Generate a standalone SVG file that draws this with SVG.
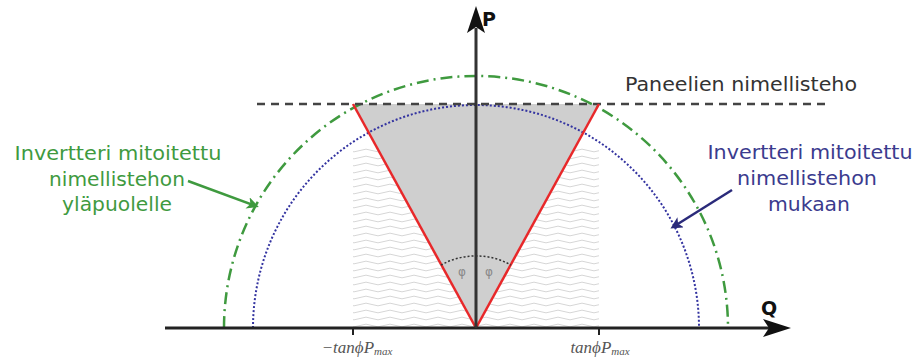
<svg xmlns="http://www.w3.org/2000/svg" width="922" height="362" viewBox="0 0 922 362">
<style>
.lbl{font-family:"DejaVu Sans","Liberation Sans",sans-serif;font-size:19px;text-anchor:middle}
.green{fill:#3f9a3f}
.blue{fill:#3b3b8e}
.tick{font-family:"Liberation Serif",serif;font-style:italic;font-size:17px;fill:#555;text-anchor:middle}
.axl{font-family:"DejaVu Sans","Liberation Sans",sans-serif;font-weight:bold;font-size:19px;fill:#111}
</style>
<defs>
<pattern id="wave" width="24" height="7" patternUnits="userSpaceOnUse">
<path d="M0 3.5 Q6 0.8 12 3.5 T24 3.5" fill="none" stroke="#d6d6d6" stroke-width="1"/>
</pattern>
<marker id="ag" markerWidth="12" markerHeight="12" refX="9" refY="6" orient="auto" markerUnits="userSpaceOnUse" viewBox="0 0 12 12">
<path d="M0 0 L12 6 L0 12 L3 6 Z" fill="#3f9a3f"/>
</marker>
<marker id="ab" markerWidth="12" markerHeight="12" refX="9" refY="6" orient="auto" markerUnits="userSpaceOnUse" viewBox="0 0 12 12">
<path d="M0 0 L12 6 L0 12 L3 6 Z" fill="#2a2a7a"/>
</marker>
</defs>
<rect width="922" height="362" fill="#fff"/>
<g id="background">
<rect x="353" y="148" width="246" height="179" fill="url(#wave)"/>
<polygon points="476,328 353,104 599,104" fill="#cfcfcf"/>
</g>
<g id="circles">
<path d="M224 328 A252 252 0 0 1 728 328" fill="none" stroke="#3f9a3f" stroke-width="2.5" stroke-dasharray="12 5 2 5"/>
<path d="M253 328 A223 223 0 0 1 699 328" fill="none" stroke="#3333a0" stroke-width="2" stroke-dasharray="2 2"/>
<line x1="257" y1="104" x2="830" y2="104" stroke="#444" stroke-width="2.5" stroke-dasharray="8 6"/>
</g>
<g id="rays">
<line x1="476" y1="328" x2="353" y2="104" stroke="#e8282a" stroke-width="2.5"/>
<line x1="476" y1="328" x2="599" y2="104" stroke="#e8282a" stroke-width="2.5"/>
<path d="M441 265 A72 72 0 0 1 511 265" fill="none" stroke="#333" stroke-width="1.5" stroke-dasharray="2 2"/>
<text x="462" y="276" font-family="DejaVu Sans,sans-serif" font-size="12" fill="#888" text-anchor="middle">φ</text>
<text x="489" y="276" font-family="DejaVu Sans,sans-serif" font-size="12" fill="#888" text-anchor="middle">φ</text>
</g>
<g id="axes">
<line x1="165" y1="328" x2="770" y2="328" stroke="#222" stroke-width="3"/>
<polygon points="791,328 763,319 769,328 763,337" fill="#111"/>
<line x1="476" y1="328" x2="476" y2="28" stroke="#333" stroke-width="3"/>
<polygon points="476,6 467,33 476,27 485,33" fill="#111"/>
<line x1="353" y1="328" x2="353" y2="335" stroke="#222" stroke-width="2"/>
<line x1="599" y1="328" x2="599" y2="335" stroke="#222" stroke-width="2"/>
<text class="axl" x="482" y="26">P</text>
<text class="axl" x="761" y="315" font-size="16">Q</text>
<text class="tick" x="357" y="353">−tanϕP<tspan font-size="11" dy="2">max</tspan></text>
<text class="tick" x="600" y="353">tanϕP<tspan font-size="11" dy="2">max</tspan></text>
</g>
<g id="label-panel">
<text x="741" y="91" font-family="DejaVu Sans,Liberation Sans,sans-serif" font-size="19" fill="#333" text-anchor="middle" textLength="232" lengthAdjust="spacingAndGlyphs">Paneelien nimellisteho</text>
</g>
<g id="label-green">
<text class="lbl green" x="118" y="160" textLength="207" lengthAdjust="spacingAndGlyphs">Invertteri mitoitettu</text>
<text class="lbl green" x="117" y="186" textLength="136" lengthAdjust="spacingAndGlyphs">nimellistehon</text>
<text class="lbl green" x="117" y="211" textLength="110" lengthAdjust="spacingAndGlyphs">yläpuolelle</text>
</g>
<g id="label-blue">
<text class="lbl blue" x="810" y="159" textLength="205" lengthAdjust="spacingAndGlyphs">Invertteri mitoitettu</text>
<text class="lbl blue" x="807" y="185" textLength="140" lengthAdjust="spacingAndGlyphs">nimellistehon</text>
<text class="lbl blue" x="809" y="211" textLength="82" lengthAdjust="spacingAndGlyphs">mukaan</text>
</g>
<g id="connectors">
<line x1="188" y1="181" x2="256" y2="206" stroke="#3f9a3f" stroke-width="2.5" marker-end="url(#ag)"/>
<line x1="732" y1="190" x2="673" y2="227" stroke="#2a2a7a" stroke-width="2.5" marker-end="url(#ab)"/>
</g>
</svg>
